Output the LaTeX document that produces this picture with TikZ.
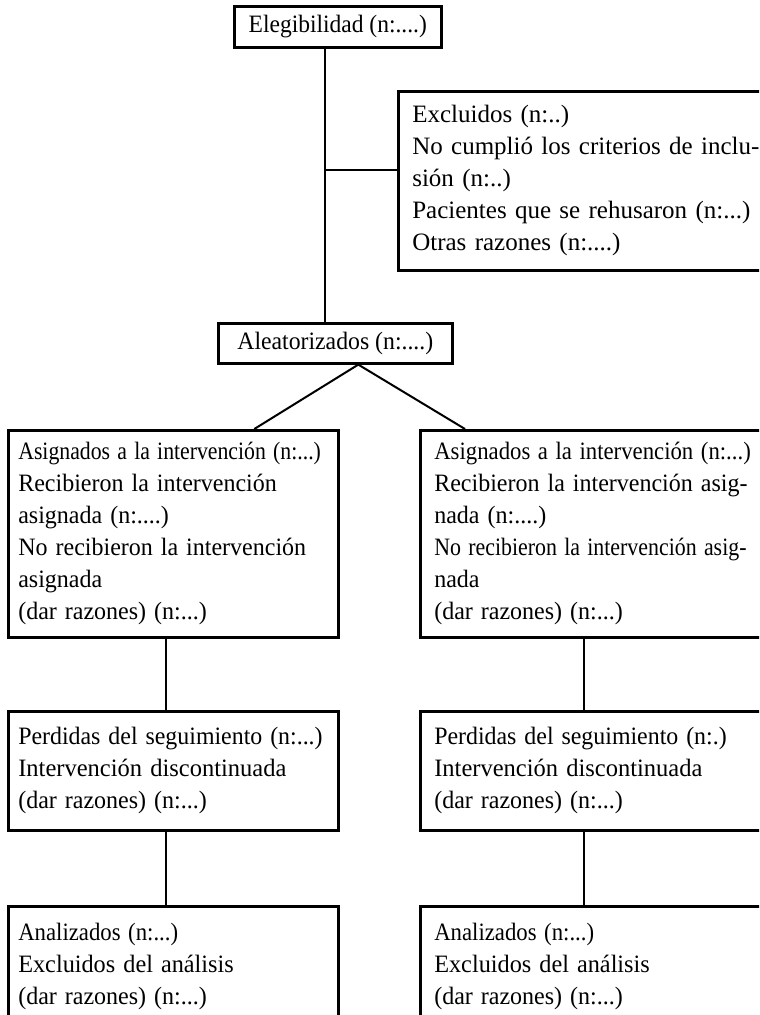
\documentclass[tikz,border=0pt]{standalone}
\usepackage{fontspec}
\setmainfont{Liberation Serif}
\usepackage{graphicx}
\usepackage{tikz}
\usetikzlibrary{positioning}
\newcommand{\linea}[2][0.96]{\scalebox{#1}[1]{#2}}

\begin{document}
\begin{tikzpicture}[x=0.5pt, y=-0.5pt, font=\fontsize{12.5}{16}\selectfont]
	\tikzstyle{caja} = [draw, line width=1.3pt, inner sep=0pt, anchor=north west]
	\tikzstyle{bloque} = [caja, align=left, inner xsep=5pt]
	\tikzstyle{linea} = [line width=1pt]

	\useasboundingbox (0,0) rectangle (759,1015);
	\clip (0,0) rectangle (759,1015);

	% cajas
	\path
		node[caja, minimum width=103.5pt, minimum height=20.5pt] (1) at (233,5) {\linea[0.94]{Elegibilidad (n:....)}}
		node[bloque, inner xsep=7pt, text width=177pt, minimum height=89.5pt] (2) at (397,90)
			{Excluidos (n:..)\\
			 No cumplió los criterios de inclu-\\
			 sión (n:..)\\
			 Pacientes que se rehusaron (n:...)\\
			 Otras razones (n:....)}
		node[caja, minimum width=117pt, minimum height=20pt] (3) at (217,322) {\linea[0.95]{Aleatorizados (n:....)}}

		node[bloque, text width=155pt, minimum height=103.5pt] (4) at (7,429)
			{\linea[0.87]{Asignados a la intervención (n:...)}\\
			 \linea{Recibieron la intervención}\\
			 \linea{asignada (n:....)}\\
			 \linea{No recibieron la intervención}\\
			 \linea{asignada}\\
			 \linea{(dar razones) (n:...)}}
		node[bloque, inner xsep=7pt, text width=166pt, minimum height=103.5pt] (5) at (419,429)
			{\linea[0.91]{Asignados a la intervención (n:...)}\\
			 \linea{Recibieron la intervención asig-}\\
			 \linea{nada (n:....)}\\
			 \linea[0.875]{No recibieron la intervención asig-}\\
			 \linea{nada}\\
			 \linea{(dar razones) (n:...)}}

		node[bloque, text width=155pt, minimum height=59.5pt] (6) at (7,710)
			{\linea[0.955]{Perdidas del seguimiento (n:...)}\\
			 \linea[0.98]{Intervención discontinuada}\\
			 \linea{(dar razones) (n:...)}}
		node[bloque, inner xsep=7pt, text width=166pt, minimum height=59.5pt] (7) at (419,710)
			{\linea[0.955]{Perdidas del seguimiento (n:.)}\\
			 \linea[0.98]{Intervención discontinuada}\\
			 \linea{(dar razones) (n:...)}}

		node[bloque, text width=155pt, minimum height=60pt] (8) at (7,905)
			{\linea[0.91]{Analizados (n:...)}\\
			 \linea[0.97]{Excluidos del análisis}\\
			 \linea{(dar razones) (n:...)}}
		node[bloque, inner xsep=7pt, text width=166pt, minimum height=60pt] (9) at (419,905)
			{\linea[0.91]{Analizados (n:...)}\\
			 \linea[0.97]{Excluidos del análisis}\\
			 \linea{(dar razones) (n:...)}}
	;

	% conectores
	\coordinate (a) at ([xshift=-6.25pt]1.south);
	\coordinate (b) at ([yshift=5.25pt]2.west);

	\path[linea]
		(a) edge (a |- 3.north)
		(a |- b) edge (b)
		([xshift=11.5pt]3.south) edge ([xshift=40.5pt]4.north)
		([xshift=11.5pt]3.south) edge ([xshift=23pt]5.north west)
		([xshift=-3.75pt]4.south) edge ([xshift=-3.75pt]6.north)
		([xshift=-3.75pt]6.south) edge ([xshift=-3.75pt]8.north)
		([xshift=82.5pt]5.south west) edge ([xshift=82.5pt]7.north west)
		([xshift=82.5pt]7.south west) edge ([xshift=82.5pt]9.north west)
	;
\end{tikzpicture}
\end{document}
